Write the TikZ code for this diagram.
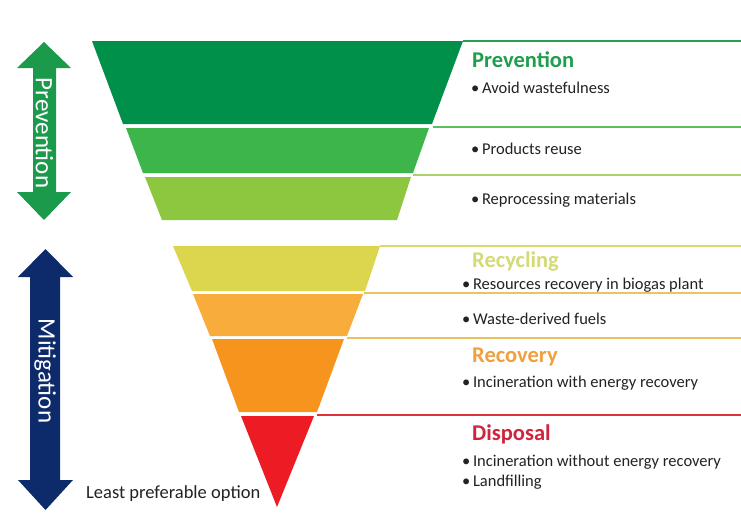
\documentclass[tikz,border=0pt]{standalone}
\usepackage{fontspec}
\setmainfont{Carlito}
\definecolor{gA}{HTML}{00904A}
\definecolor{gB}{HTML}{3DB54A}
\definecolor{gC}{HTML}{8DC63F}
\definecolor{yA}{HTML}{DCD54E}
\definecolor{oA}{HTML}{F8AC3C}
\definecolor{oB}{HTML}{F7941D}
\definecolor{rA}{HTML}{ED1C24}
\definecolor{lgA}{HTML}{2A9D4E}
\definecolor{lgB}{HTML}{5BBF5B}
\definecolor{lgC}{HTML}{A8D26A}
\definecolor{lyA}{HTML}{DCD86A}
\definecolor{loA}{HTML}{EAC45C}
\definecolor{loB}{HTML}{EAC060}
\definecolor{lrA}{HTML}{E0303C}
\definecolor{hG}{HTML}{1F9E4E}
\definecolor{hY}{HTML}{D4DB76}
\definecolor{hO}{HTML}{F0A040}
\definecolor{hR}{HTML}{D2233C}
\definecolor{arG}{HTML}{1A9A4A}
\definecolor{arB}{HTML}{0D2A6A}
\definecolor{txt}{HTML}{222222}
\newcommand{\bul}{\textbullet\hspace{2.6pt}}
\begin{document}
\begin{tikzpicture}[x=1pt,y=-1pt,
  sep/.style={line width=1.5pt},
  item/.style={anchor=base west,inner sep=0pt,text=txt,font=\fontsize{16.5}{19}\selectfont},
  head/.style={anchor=base west,inner sep=0pt,font=\bfseries\fontsize{22.5}{26}\selectfont},
  vlabel/.style={rotate=-90,text=white,inner sep=0pt,font=\fontsize{25}{28}\selectfont}]
\useasboundingbox (0,0) rectangle (741,530);
\fill[white] (0,0) rectangle (741,530);
% upper funnel
\fill[gA] (92,41) -- (463,41) -- (432,124) -- (123,124) -- cycle;
\fill[gB] (126,128) -- (429,128) -- (413,173) -- (143,173) -- cycle;
\fill[gC] (145,177) -- (411,177) -- (397,220) -- (162,220) -- cycle;
% lower funnel
\fill[yA] (173,246) -- (380,246) -- (365,291) -- (192,291) -- cycle;
\fill[oA] (193,294) -- (363,294) -- (347,336) -- (210,336) -- cycle;
\fill[oB] (212,339) -- (344,339) -- (317,412) -- (239,412) -- cycle;
\fill[rA] (241,416) -- (314,416) -- (277,507) -- cycle;
% separator lines
\draw[sep,lgA] (463,41) -- (741,41);
\draw[sep,lgB] (433,127) -- (741,127);
\draw[sep,lgC] (413,175) -- (741,175);
\draw[sep,lyA] (380,246) -- (741,246);
\draw[sep,loA] (364,293) -- (741,293);
\draw[sep,loB] (347,338) -- (741,338);
\draw[sep,lrA] (317,415) -- (741,415);
% arrows
\fill[arG] (44,42) -- (71,68) -- (56,68) -- (56,192) -- (71,192) -- (44,220)
  -- (17,192) -- (33,192) -- (33,68) -- (17,68) -- cycle;
\fill[arB] (45.5,249) -- (73,277) -- (60,277) -- (60,480) -- (73,480) -- (45.5,510)
  -- (18,480) -- (30,480) -- (30,277) -- (18,277) -- cycle;
\node[vlabel] (lprev) at (44.5,133) {Prevention};
\node[vlabel] (lmit) at (45,371) {Mitigation};
% texts
\node[head,text=hG] (hprev) at (472,67) {Prevention};
\node[item] (t1) at (471,93) {\bul Avoid wastefulness};
\node[item] (t2) at (471,154) {\bul Products reuse};
\node[item] (t3) at (471,204) {\bul Reprocessing materials};
\node[head,text=hY] (hrec) at (472,267) {Recycling};
\node[item] (t4) at (462,289) {\bul Resources recovery in biogas plant};
\node[item] (t5) at (462,324) {\bul Waste-derived fuels};
\node[head,text=hO] (hrecov) at (472,362) {Recovery};
\node[item] (t6) at (462,387) {\bul Incineration with energy recovery};
\node[head,text=hR] (hdisp) at (472,440) {Disposal};
\node[item] (t7) at (462,466) {\bul Incineration without energy recovery};
\node[item] (t8) at (462,486) {\bul Landfilling};
\node[item,font=\fontsize{18.5}{21}\selectfont] (least) at (86,498) {Least preferable option};
\end{tikzpicture}
\end{document}
